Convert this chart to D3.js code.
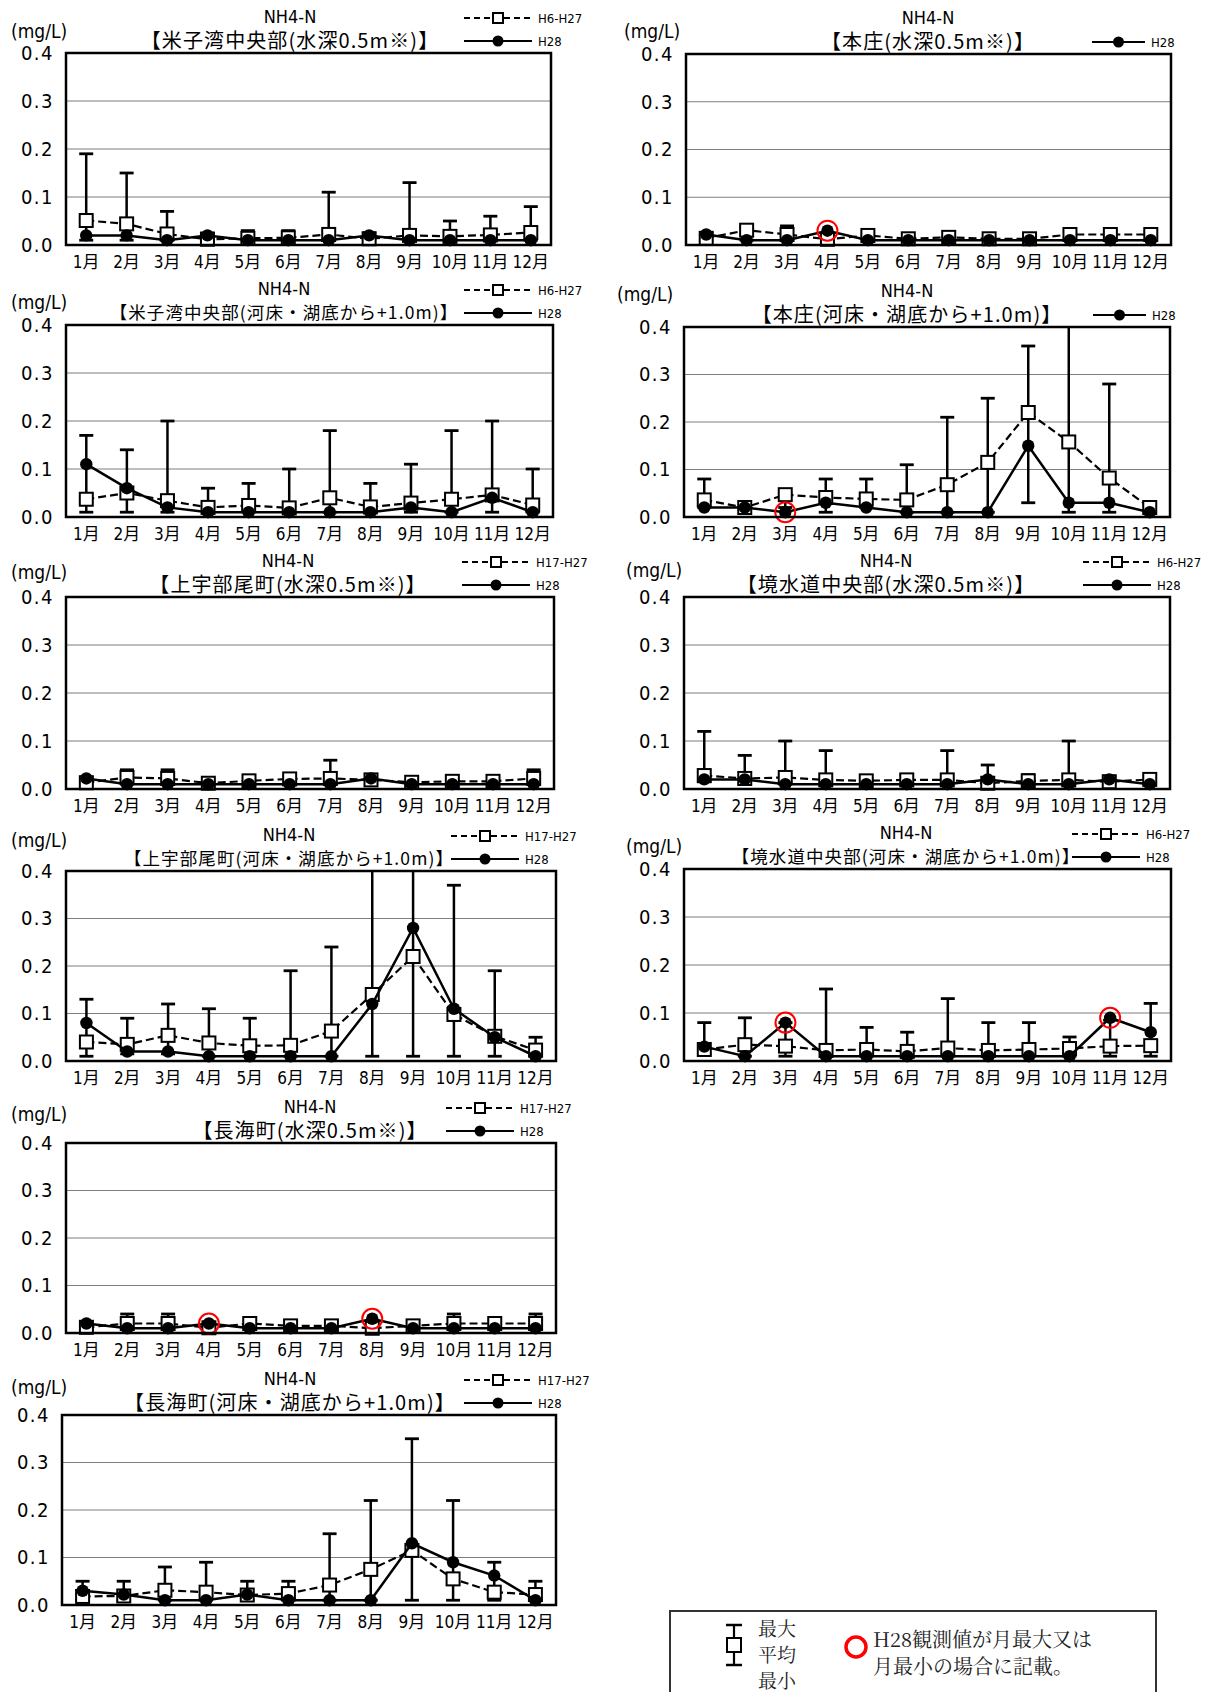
<!DOCTYPE html>
<html><head><meta charset="utf-8">
<script src="https://cdn.jsdelivr.net/npm/d3@7"></script>
<style>
html,body{margin:0;padding:0;background:#fff;}
svg{display:block;}
</style></head>
<body>
<script>
// ---------- data ----------
const months = ["1月","2月","3月","4月","5月","6月","7月","8月","9月","10月","11月","12月"];
const yTicks = [0, 0.1, 0.2, 0.3, 0.4];
const paramName = "NH4-N";
const unitLabel = "(mg/L)";
const titles = [
  "【米子湾中央部(水深0.5m※)】",
  "【本庄(水深0.5m※)】",
  "【米子湾中央部(河床・湖底から+1.0m)】",
  "【本庄(河床・湖底から+1.0m)】",
  "【上宇部尾町(水深0.5m※)】",
  "【境水道中央部(水深0.5m※)】",
  "【上宇部尾町(河床・湖底から+1.0m)】",
  "【境水道中央部(河床・湖底から+1.0m)】",
  "【長海町(水深0.5m※)】",
  "【長海町(河床・湖底から+1.0m)】"
];
const periods = ["H6-H27","H6-H27","H6-H27","H6-H27","H17-H27","H6-H27","H17-H27","H6-H27","H17-H27","H17-H27"];
const showPeriodLegend = [true,false,true,false,true,true,true,true,true,true];
const currentLabel = "H28";

const max1 = [0.19,0.15,0.07,0.025,0.03,0.03,0.11,0.025,0.13,0.05,0.06,0.08];
const avg1 = [0.051,0.044,0.023,0.012,0.014,0.015,0.022,0.013,0.02,0.018,0.021,0.026];
const min1 = [0.01,0.01,0.01,0.01,0.01,0.01,0.01,0.01,0.01,0.01,0.01,0.01];
const h28_1 = [0.02,0.02,0.01,0.02,0.01,0.01,0.01,0.02,0.01,0.01,0.01,0.01];
const mark1 = [];

const max2 = [0.025,0.038,0.04,0.015,0.025,0.015,0.018,0.015,0.015,0.028,0.028,0.028];
const avg2 = [0.014,0.031,0.022,0.012,0.02,0.013,0.016,0.013,0.013,0.022,0.022,0.022];
const min2 = [0.01,0.01,0.01,0.01,0.01,0.01,0.01,0.01,0.01,0.01,0.01,0.01];
const h28_2 = [0.022,0.01,0.01,0.03,0.01,0.01,0.01,0.01,0.01,0.01,0.01,0.01];
const mark2 = ["4月"];

const max3 = [0.17,0.14,0.20,0.06,0.07,0.10,0.18,0.07,0.11,0.18,0.20,0.10];
const avg3 = [0.037,0.05,0.034,0.02,0.024,0.019,0.04,0.021,0.029,0.037,0.046,0.025];
const min3 = [0.01,0.01,0.01,0.01,0.01,0.01,0.01,0.01,0.01,0.01,0.01,0.01];
const h28_3 = [0.11,0.06,0.02,0.01,0.01,0.01,0.01,0.01,0.02,0.01,0.04,0.01];
const mark3 = [];

const max4 = [0.08,0.025,0.05,0.08,0.08,0.11,0.21,0.25,0.36,0.46,0.28,0.025];
const avg4 = [0.036,0.02,0.047,0.041,0.038,0.036,0.068,0.115,0.22,0.158,0.082,0.02];
const min4 = [0.02,0.015,0.02,0.01,0.02,0.01,0.01,0.01,0.03,0.01,0.01,0.01];
const h28_4 = [0.02,0.02,0.01,0.03,0.02,0.01,0.01,0.01,0.15,0.03,0.03,0.01];
const mark4 = ["3月"];

const max5 = [0.025,0.04,0.04,0.015,0.02,0.027,0.06,0.025,0.015,0.02,0.02,0.04];
const avg5 = [0.013,0.024,0.022,0.012,0.017,0.021,0.022,0.019,0.014,0.016,0.016,0.022];
const min5 = [0.01,0.01,0.01,0.01,0.01,0.01,0.01,0.01,0.01,0.01,0.01,0.01];
const h28_5 = [0.022,0.01,0.01,0.01,0.01,0.01,0.01,0.022,0.01,0.01,0.01,0.01];
const mark5 = [];

const max6 = [0.12,0.07,0.10,0.08,0.022,0.03,0.08,0.05,0.03,0.10,0.027,0.027];
const avg6 = [0.028,0.022,0.024,0.019,0.017,0.019,0.019,0.012,0.017,0.019,0.015,0.02];
const min6 = [0.015,0.01,0.01,0.01,0.01,0.01,0.01,0.01,0.01,0.01,0.01,0.01];
const h28_6 = [0.02,0.02,0.01,0.01,0.01,0.01,0.01,0.02,0.01,0.01,0.02,0.01];
const mark6 = [];

const max7 = [0.13,0.09,0.12,0.11,0.09,0.19,0.24,0.47,0.47,0.37,0.19,0.05];
const avg7 = [0.04,0.035,0.054,0.038,0.032,0.033,0.063,0.14,0.22,0.098,0.052,0.023];
const min7 = [0.01,0.015,0.015,0.01,0.01,0.01,0.01,0.01,0.01,0.01,0.01,0.01];
const h28_7 = [0.08,0.02,0.02,0.01,0.01,0.01,0.01,0.12,0.28,0.11,0.05,0.01];
const mark7 = [];

const max8 = [0.08,0.09,0.08,0.15,0.07,0.06,0.13,0.08,0.08,0.05,0.085,0.12];
const avg8 = [0.024,0.034,0.031,0.022,0.024,0.02,0.027,0.022,0.024,0.026,0.031,0.032];
const min8 = [0.015,0.01,0.01,0.01,0.01,0.01,0.01,0.01,0.01,0.01,0.01,0.01];
const h28_8 = [0.03,0.01,0.08,0.01,0.01,0.01,0.01,0.01,0.01,0.01,0.09,0.06];
const mark8 = ["3月","11月"];

const max9 = [0.02,0.04,0.04,0.015,0.027,0.015,0.015,0.015,0.02,0.04,0.027,0.04];
const avg9 = [0.012,0.02,0.02,0.011,0.02,0.015,0.015,0.01,0.015,0.02,0.02,0.02];
const min9 = [0.01,0.01,0.01,0.01,0.01,0.01,0.01,0.01,0.01,0.01,0.01,0.01];
const h28_9 = [0.02,0.01,0.01,0.02,0.01,0.01,0.01,0.03,0.01,0.01,0.01,0.01];
const mark9 = ["4月","8月"];

const max10 = [0.05,0.05,0.08,0.09,0.05,0.05,0.15,0.22,0.35,0.22,0.09,0.05];
const avg10 = [0.018,0.019,0.031,0.027,0.021,0.024,0.042,0.075,0.115,0.055,0.027,0.022];
const min10 = [0.01,0.01,0.01,0.01,0.01,0.01,0.01,0.01,0.01,0.01,0.01,0.01];
const h28_10 = [0.03,0.022,0.01,0.01,0.022,0.01,0.01,0.01,0.13,0.09,0.062,0.01];
const mark10 = [];

const legendKeyLabels = ["最大","平均","最小"];
const noteLines = ["H28観測値が月最大又は","月最小の場合に記載。"];

// ---------- layout (not data) ----------
const boxes = [[66,551,53,245],[686,1171,54,245],[66,553,325,517],[684,1170,327,517],
  [66,554,597,789],[684,1170,597,789],[66,556,871,1061],[684,1171,869,1061],
  [66,556,1143,1333],[62,556,1415,1605]];
const titleX = [290,928,284,907,288,886,289,906,310,290];
const titleSize = [20,20,17.5,20,20,20,17.5,17.5,20,20];
const legX = [464,1092,464,1093,462,1083,451,1072,446,464];
const unitPos = [[11,31],[624,31],[11,302],[617,294],[11,572],[626,570],[11,840],[626,846],[11,1114],[11,1387]];

const panels = [
  {max:max1,avg:avg1,min:min1,h28:h28_1,mark:mark1},
  {max:max2,avg:avg2,min:min2,h28:h28_2,mark:mark2},
  {max:max3,avg:avg3,min:min3,h28:h28_3,mark:mark3},
  {max:max4,avg:avg4,min:min4,h28:h28_4,mark:mark4},
  {max:max5,avg:avg5,min:min5,h28:h28_5,mark:mark5},
  {max:max6,avg:avg6,min:min6,h28:h28_6,mark:mark6},
  {max:max7,avg:avg7,min:min7,h28:h28_7,mark:mark7},
  {max:max8,avg:avg8,min:min8,h28:h28_8,mark:mark8},
  {max:max9,avg:avg9,min:min9,h28:h28_9,mark:mark9},
  {max:max10,avg:avg10,min:min10,h28:h28_10,mark:mark10}
];

const FONT = "'DejaVu Sans Condensed','Noto Sans CJK JP',sans-serif";
const JFONT = "'Noto Sans CJK JP',sans-serif";

const svg = d3.select("body").append("svg").attr("width",1211).attr("height",1692);
svg.append("rect").attr("width",1211).attr("height",1692).attr("fill","#fff");

panels.forEach((p,i) => {
  const [x0,x1,y0,y1] = boxes[i];
  const x = d3.scaleBand().domain(months).range([x0,x1]);
  const y = d3.scaleLinear().domain([0,0.4]).range([y1,y0]);
  const cx = m => x(m) + x.bandwidth()/2;
  const g = svg.append("g");

  const clipId = "clip"+i;
  svg.append("clipPath").attr("id",clipId).append("rect")
    .attr("x",x0-20).attr("y",y0).attr("width",x1-x0+40).attr("height",y1-y0+30);

  // grid
  g.selectAll(".grid").data(yTicks.filter(t=>t>0 && t<0.4)).enter().append("line")
    .attr("x1",x0).attr("x2",x1).attr("y1",d=>y(d)).attr("y2",d=>y(d))
    .attr("stroke","#7f7f7f").attr("stroke-width",1.2);

  // axes
  const ay = g.append("g").attr("transform",`translate(${x0},0)`)
    .call(d3.axisLeft(y).tickValues(yTicks).tickFormat(d3.format(".1f")).tickSize(0).tickPadding(12));
  ay.select(".domain").remove();
  ay.selectAll("text").attr("font-family",FONT).attr("font-size",20).attr("fill","#000")
    .attr("letter-spacing","1.5px");
  const ax = g.append("g").attr("transform",`translate(0,${y1})`)
    .call(d3.axisBottom(x).tickSize(0).tickPadding(11));
  ax.select(".domain").remove();
  ax.selectAll("text").attr("font-family",FONT).attr("font-size",17).attr("fill","#000");

  const rows = months.map((m,k)=>({m, max:p.max[k], avg:p.avg[k], min:p.min[k], h:p.h28[k]}));
  const plot = g.append("g").attr("clip-path",`url(#${clipId})`);

  // mean dashed line
  plot.append("path").datum(rows)
    .attr("d", d3.line().x(d=>cx(d.m)).y(d=>y(d.avg)))
    .attr("fill","none").attr("stroke","#000").attr("stroke-width",2.2).attr("stroke-dasharray","8,4");

  // error bars
  const eb = plot.selectAll(".eb").data(rows).enter().append("g");
  eb.append("line").attr("x1",d=>cx(d.m)).attr("x2",d=>cx(d.m))
    .attr("y1",d=>y(d.min)).attr("y2",d=>y(d.max)).attr("stroke","#000").attr("stroke-width",2.5);
  eb.append("line").attr("x1",d=>cx(d.m)-7).attr("x2",d=>cx(d.m)+7)
    .attr("y1",d=>y(d.max)).attr("y2",d=>y(d.max)).attr("stroke","#000").attr("stroke-width",2.8);
  eb.append("line").attr("x1",d=>cx(d.m)-7).attr("x2",d=>cx(d.m)+7)
    .attr("y1",d=>y(d.min)).attr("y2",d=>y(d.min)).attr("stroke","#000").attr("stroke-width",2.8);

  // squares
  plot.selectAll(".sq").data(rows).enter().append("rect")
    .attr("x",d=>cx(d.m)-6.5).attr("y",d=>y(d.avg)-6.5).attr("width",13).attr("height",13)
    .attr("fill","#fff").attr("stroke","#000").attr("stroke-width",2);

  // H28 line
  plot.append("path").datum(rows)
    .attr("d", d3.line().x(d=>cx(d.m)).y(d=>y(d.h)))
    .attr("fill","none").attr("stroke","#000").attr("stroke-width",2.5);
  plot.selectAll(".pt").data(rows).enter().append("circle")
    .attr("cx",d=>cx(d.m)).attr("cy",d=>y(d.h)).attr("r",6.2).attr("fill","#000");

  // red highlight
  plot.selectAll(".mk").data(rows.filter(d=>p.mark.includes(d.m))).enter().append("circle")
    .attr("cx",d=>cx(d.m)).attr("cy",d=>y(d.h)).attr("r",10)
    .attr("fill","none").attr("stroke","#ff0000").attr("stroke-width",2);

  // frame
  g.append("rect").attr("x",x0).attr("y",y0).attr("width",x1-x0).attr("height",y1-y0)
    .attr("fill","none").attr("stroke","#000").attr("stroke-width",2.5);

  // titles
  g.append("text").attr("x",titleX[i]).attr("y",y0-37).attr("text-anchor","middle")
    .attr("dominant-baseline","central").attr("font-family",FONT).attr("font-size",18)
    .text(paramName);
  g.append("text").attr("x",titleX[i]).attr("y",y0-14).attr("text-anchor","middle")
    .attr("dominant-baseline","central").attr("font-family",JFONT).attr("font-size",titleSize[i])
    .attr("letter-spacing","1.1px")
    .text(titles[i]);

  // unit
  g.append("text").attr("x",unitPos[i][0]).attr("y",unitPos[i][1])
    .attr("dominant-baseline","central").attr("font-family",FONT).attr("font-size",19)
    .text(unitLabel);

  // legend
  const lx = legX[i];
  const len = showPeriodLegend[i] ? 68 : 53;
  if (showPeriodLegend[i]) {
    const ly = y0-35;
    g.append("line").attr("x1",lx).attr("x2",lx+len).attr("y1",ly).attr("y2",ly)
      .attr("stroke","#000").attr("stroke-width",2.2).attr("stroke-dasharray","6,4");
    g.append("rect").attr("x",lx+len/2-5).attr("y",ly-5).attr("width",10).attr("height",10)
      .attr("fill","#fff").attr("stroke","#000").attr("stroke-width",2);
    g.append("text").attr("x",lx+len+6).attr("y",ly).attr("dominant-baseline","central")
      .attr("font-family",FONT).attr("font-size",13).text(periods[i]);
  }
  const ly2 = y0-12;
  g.append("line").attr("x1",lx).attr("x2",lx+len).attr("y1",ly2).attr("y2",ly2)
    .attr("stroke","#000").attr("stroke-width",2.2);
  g.append("circle").attr("cx",lx+len/2).attr("cy",ly2).attr("r",5.5).attr("fill","#000");
  g.append("text").attr("x",lx+len+6).attr("y",ly2).attr("dominant-baseline","central")
    .attr("font-family",FONT).attr("font-size",13).text(currentLabel);
});

// ---------- bottom key ----------
const key = svg.append("g");
key.append("rect").attr("x",670).attr("y",1611).attr("width",486).attr("height",110)
  .attr("fill","#fff").attr("stroke","#333").attr("stroke-width",2);
const kx = 734;
key.append("line").attr("x1",kx).attr("x2",kx).attr("y1",1625).attr("y2",1665).attr("stroke","#000").attr("stroke-width",2.2);
key.append("line").attr("x1",kx-8).attr("x2",kx+8).attr("y1",1625).attr("y2",1625).attr("stroke","#000").attr("stroke-width",2.5);
key.append("line").attr("x1",kx-8).attr("x2",kx+8).attr("y1",1665).attr("y2",1665).attr("stroke","#000").attr("stroke-width",2.5);
key.append("rect").attr("x",kx-7).attr("y",1638).attr("width",14).attr("height",14)
  .attr("fill","#fff").attr("stroke","#000").attr("stroke-width",2);
key.selectAll(".kl").data(legendKeyLabels).enter().append("text")
  .attr("x",758).attr("y",(d,k)=>1627+k*26).attr("dominant-baseline","central")
  .attr("font-family","'Noto Serif CJK JP','Noto Sans CJK JP',serif").attr("font-size",19)
  .attr("fill","#222").text(d=>d);
key.append("circle").attr("cx",856).attr("cy",1647).attr("r",10).attr("fill","none")
  .attr("stroke","#ff0000").attr("stroke-width",3.5);
key.selectAll(".nl").data(noteLines).enter().append("text")
  .attr("x",873).attr("y",(d,k)=>1638+k*27).attr("dominant-baseline","central")
  .attr("font-family","'Noto Serif CJK JP','Liberation Serif','Noto Sans CJK JP',serif").attr("font-size",20)
  .attr("fill","#222").text(d=>d);
</script>
</body></html>
